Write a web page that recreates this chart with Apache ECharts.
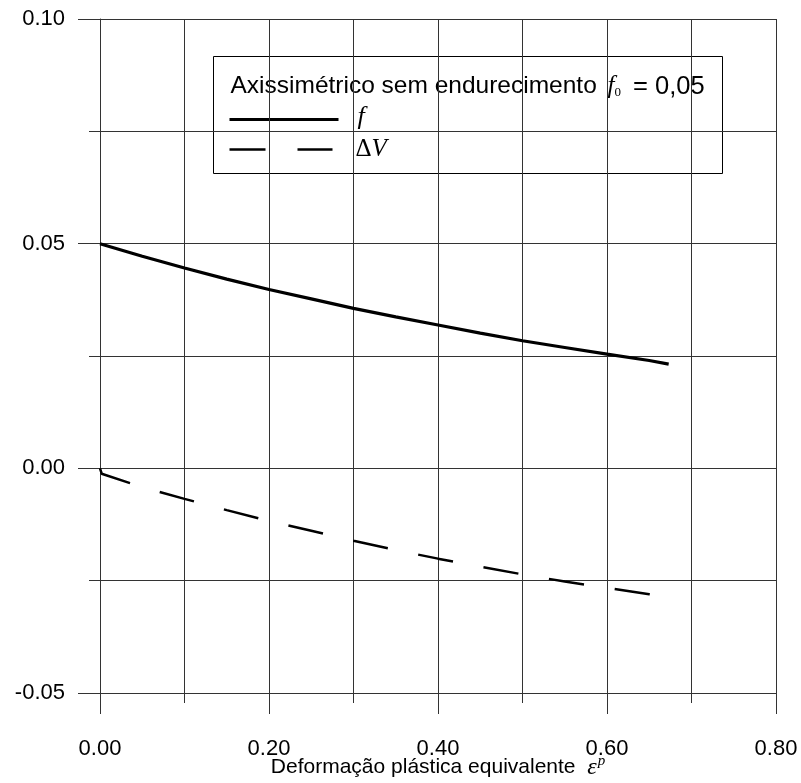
<!DOCTYPE html>
<html>
<head>
<meta charset="utf-8">
<script src="https://cdn.jsdelivr.net/npm/echarts@6/dist/echarts.min.js"></script>
<style>
html,body{margin:0;padding:0;background:#fff;}
#chart{width:801px;height:783px;}
</style>
</head>
<body>
<div id="chart"></div>
<script>
// Equivalent plastic strain (x) and series values
const strainF = [0, 0.05, 0.10, 0.15, 0.20, 0.25, 0.30, 0.35, 0.40, 0.45, 0.50, 0.55, 0.60, 0.65, 0.673];
const fValues = [0.0500, 0.0472, 0.0446, 0.0421, 0.0398, 0.0377, 0.0356, 0.0337, 0.0319, 0.0301, 0.0284, 0.0269, 0.0254, 0.0240, 0.0232];
const strainDV = [0, 0.002, 0.05, 0.10, 0.15, 0.20, 0.25, 0.30, 0.35, 0.40, 0.45, 0.50, 0.55, 0.60, 0.65, 0.673];
const dvValues = [0, -0.0012, -0.0042, -0.0068, -0.0093, -0.0117, -0.0139, -0.0161, -0.0182, -0.0201, -0.0219, -0.0236, -0.0252, -0.0266, -0.0280, -0.0286];
const xTicks = ['0.00', '0.20', '0.40', '0.60', '0.80'];
const yTicks = ['-0.05', '0.00', '0.05', '0.10'];
const legendTitle = 'Axissimétrico sem endurecimento ';
const xAxisTitle = 'Deformação plástica equivalente  ';

const chart = echarts.init(document.getElementById('chart'), null, {renderer: 'canvas'});
const gridColor = '#333';
const lineStyle = {color: gridColor, width: 1};

function pairs(xs, ys) { return xs.map((x, i) => [x, ys[i]]); }

const option = {
  animation: false,
  backgroundColor: '#fff',
  grid: {left: 100, right: 25, top: 19, bottom: 90, containLabel: false, outerBoundsMode: 'none'},
  xAxis: {
    type: 'value', min: 0, max: 0.8, interval: 0.2,
    axisLine: {show: true, onZero: false, lineStyle: lineStyle},
    axisTick: {show: true, length: 21, lineStyle: lineStyle},
    minorTick: {show: true, splitNumber: 2, length: 10, lineStyle: lineStyle},
    splitLine: {show: true, lineStyle: lineStyle},
    minorSplitLine: {show: true, lineStyle: lineStyle},
    axisLabel: {
      margin: 45, fontSize: 22, color: '#000', fontFamily: 'Liberation Sans Narrow, Liberation Sans, Arial',
      formatter: (v) => xTicks[Math.round(v / 0.2)]
    },
    name: '{t|' + xAxisTitle + '}{e|ε}{p|p}',
    nameLocation: 'middle', nameGap: 61, nameMoveOverlap: false,
    nameTextStyle: {
      rich: {
        t: {fontSize: 21, color: '#000', fontFamily: 'Liberation Sans Narrow, Liberation Sans, Arial'},
        e: {fontSize: 24, color: '#000', fontFamily: 'Liberation Serif, serif', fontStyle: 'italic'},
        p: {fontSize: 15, color: '#000', fontFamily: 'Liberation Serif, serif', fontStyle: 'italic', verticalAlign: 'top', padding: [0, 0, 12, 1]}
      }
    }
  },
  yAxis: {
    type: 'value', min: -0.05, max: 0.1, interval: 0.05,
    axisLine: {show: true, onZero: false, lineStyle: lineStyle},
    axisTick: {show: true, length: 22, lineStyle: lineStyle},
    minorTick: {show: true, splitNumber: 2, length: 11, lineStyle: lineStyle},
    splitLine: {show: true, lineStyle: lineStyle},
    minorSplitLine: {show: true, lineStyle: lineStyle},
    axisLabel: {
      margin: 35, fontSize: 22, color: '#000', fontFamily: 'Liberation Sans, Arial',
      formatter: (v) => yTicks[Math.round((v + 0.05) / 0.05)]
    }
  },
  series: [
    {
      name: 'f', type: 'line', data: pairs(strainF, fValues), showSymbol: false, smooth: false,
      lineStyle: {color: '#000', width: 3.2}, z: 3
    },
    {
      name: 'ΔV', type: 'line', data: pairs(strainDV, dvValues), showSymbol: false, smooth: false,
      lineStyle: {color: '#000', width: 2.5, type: [35.5, 31]}, z: 3
    }
  ],
  graphic: [
    {
      type: 'group', z: 100, left: 213, top: 56,
      children: [
        {type: 'rect', shape: {x: 0, y: 0, width: 509, height: 117}, style: {fill: '#fff', stroke: '#000', lineWidth: 1}},
        {
          type: 'text', x: 17, y: 30,
          style: {
            text: '{t|' + legendTitle + '}{f|f}{s|0}{e|= 0,05}',
            verticalAlign: 'middle',
            rich: {
              t: {fontSize: 24.5, fill: '#000', fontFamily: 'Liberation Sans, Arial'},
              f: {fontSize: 25, fill: '#000', fontFamily: 'Liberation Serif, serif', fontStyle: 'italic', padding: [0, 0, 0, 4]},
              s: {fontSize: 13, fill: '#000', fontFamily: 'Liberation Serif, serif', verticalAlign: 'bottom', padding: [11, 0, 0, 0]},
              e: {fontSize: 25.5, fill: '#000', fontFamily: 'Liberation Sans, Arial', padding: [0, 0, 0, 12]}
            }
          }
        },
        {type: 'line', shape: {x1: 16, y1: 63, x2: 125, y2: 63}, style: {stroke: '#000', lineWidth: 3}},
        {type: 'text', x: 144, y: 61, style: {text: 'f', fontSize: 26, fontStyle: 'italic', fontFamily: 'Liberation Serif, serif', fill: '#000', verticalAlign: 'middle'}},
        {type: 'line', shape: {x1: 16, y1: 93, x2: 52, y2: 93}, style: {stroke: '#000', lineWidth: 2.5}},
        {type: 'line', shape: {x1: 84, y1: 93, x2: 119, y2: 93}, style: {stroke: '#000', lineWidth: 2.5}},
        {
          type: 'text', x: 142, y: 93,
          style: {
            text: '{d|Δ}{v|V}', verticalAlign: 'middle',
            rich: {
              d: {fontSize: 25, fill: '#000', fontFamily: 'Liberation Serif, serif'},
              v: {fontSize: 25, fill: '#000', fontFamily: 'Liberation Serif, serif', fontStyle: 'italic'}
            }
          }
        }
      ]
    }
  ]
};
chart.setOption(option);
</script>
</body>
</html>
